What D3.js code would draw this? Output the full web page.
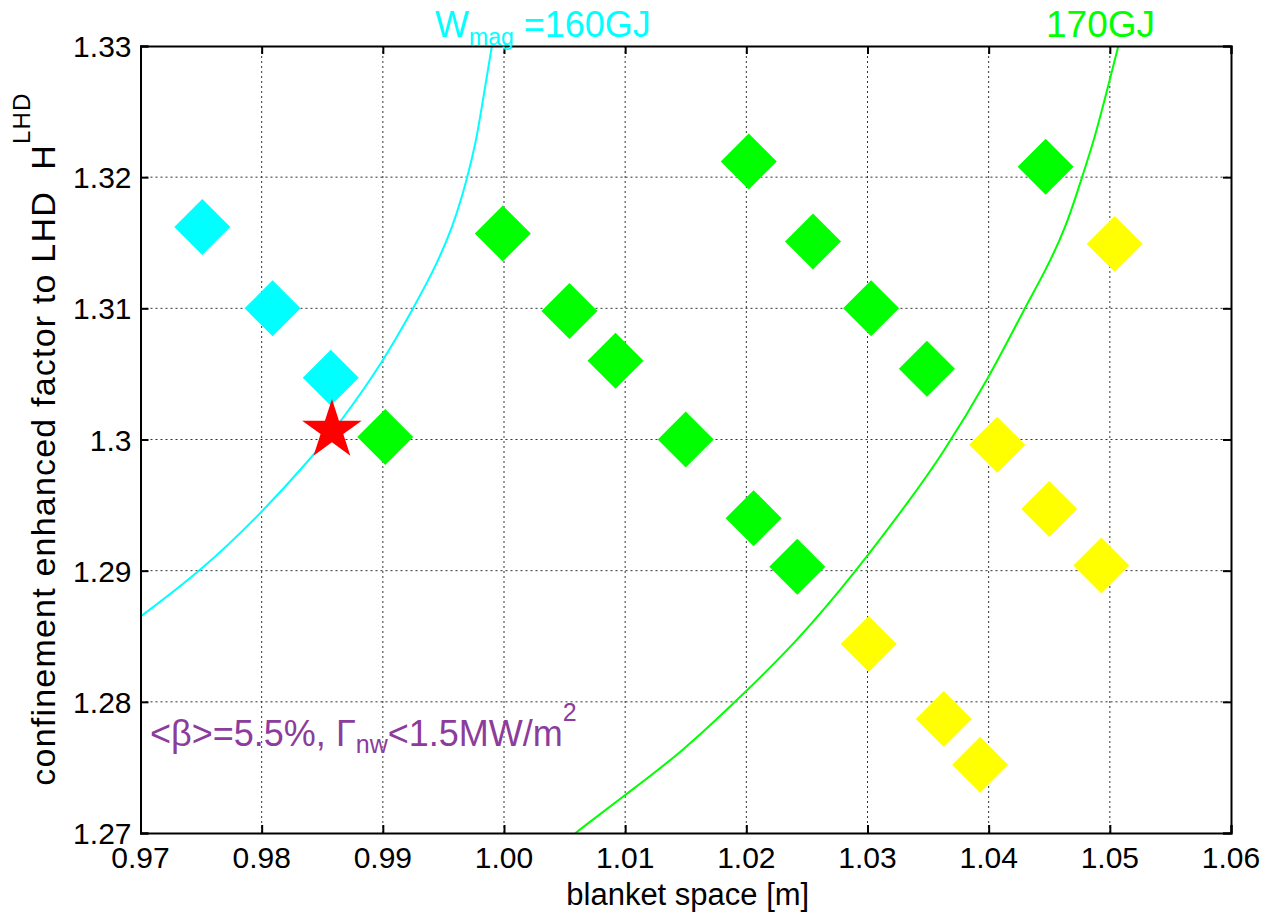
<!doctype html>
<html lang="en">
<head>
<meta charset="utf-8">
<title>blanket space vs confinement factor</title>
<script src="https://d3js.org/d3.v7.min.js"></script>
<style>
	body { margin: 0; background: #fff; }
	text { font-family: Arial, "Liberation Sans", sans-serif; }
</style>
</head>
<body>
<svg id="chart" width="1270" height="913"></svg>
<script>
// ---- data ----
var xTicks = [0.97, 0.98, 0.99, 1.00, 1.01, 1.02, 1.03, 1.04, 1.05, 1.06];
var xTickLabels = ['0.97','0.98','0.99','1.00','1.01','1.02','1.03','1.04','1.05','1.06'];
var yTicks = [1.27, 1.28, 1.29, 1.30, 1.31, 1.32, 1.33];
var yTickLabels = ['1.27','1.28','1.29','1.3','1.31','1.32','1.33'];

// cyan points
var cyanX = [0.9751, 0.9809, 0.9857];
var cyanY = [1.3162, 1.3100, 1.3047];

// green points
var greenX = [0.9902, 0.9999, 1.0054, 1.0092, 1.0150, 1.0202, 1.0206, 1.0242, 1.0255, 1.0303, 1.0349, 1.0447];
var greenY = [1.3002, 1.3157, 1.3098, 1.3060, 1.3000, 1.3212, 1.2940, 1.2903, 1.3151, 1.3100, 1.3054, 1.3208];

// yellow points
var yellowX = [1.0301, 1.0363, 1.0393, 1.0407, 1.0450, 1.0493, 1.0504];
var yellowY = [1.2844, 1.2787, 1.2752, 1.2996, 1.2947, 1.2904, 1.3149];

// red star (design point)
var starX = [0.9858];
var starY = [1.3007];

// W_mag = 160GJ contour
var w160X = [0.9700, 0.9749, 0.9800, 0.9840, 0.9865, 0.9900, 0.9925, 0.9941, 0.9958, 0.9970, 0.9977, 0.9980, 0.9990];
var w160Y = [1.2865, 1.2899, 1.2944, 1.2985, 1.3013, 1.3059, 1.3100, 1.3127, 1.3162, 1.3200, 1.3228, 1.3244, 1.3300];

// W_mag = 170GJ contour
var w170X = [1.0059, 1.0100, 1.0146, 1.0191, 1.0243, 1.0291, 1.0335, 1.0360, 1.0401, 1.0429, 1.0446, 1.0464, 1.0477, 1.0487, 1.0498, 1.0507];
var w170Y = [1.2700, 1.2729, 1.2761, 1.2800, 1.2847, 1.2900, 1.2954, 1.2986, 1.3048, 1.3099, 1.3127, 1.3162, 1.3200, 1.3228, 1.3267, 1.3300];

// ---- layout ----
var margin = {left: 140.5, top: 46, right: 39, bottom: 80};
var W = 1270, H = 913;
var pw = W - margin.left - margin.right;
var ph = H - margin.top - margin.bottom;

var svg = d3.select('#chart');

var x = d3.scaleLinear().domain([0.97, 1.06]).range([0, pw]);
var y = d3.scaleLinear().domain([1.27, 1.33]).range([ph, 0]);

var g = svg.append('g').attr('transform', 'translate(' + margin.left + ',' + margin.top + ')');

// clip for curves
g.append('clipPath').attr('id', 'clip')
	.append('rect').attr('width', pw).attr('height', ph);

// grid lines (dotted)
g.append('g').selectAll('line.gx')
	.data(xTicks.slice(1, -1)).enter().append('line')
	.attr('x1', d => x(d)).attr('x2', d => x(d))
	.attr('y1', 0).attr('y2', ph)
	.attr('stroke', '#333').attr('stroke-width', 1).attr('stroke-dasharray', '2,3');

g.append('g').selectAll('line.gy')
	.data(yTicks.slice(1, -1)).enter().append('line')
	.attr('y1', d => y(d)).attr('y2', d => y(d))
	.attr('x1', 0).attr('x2', pw)
	.attr('stroke', '#333').attr('stroke-width', 1).attr('stroke-dasharray', '2,3');

// contour curves
var line = d3.line()
	.x(d => x(d[0]))
	.y(d => y(d[1]))
	.curve(d3.curveBasis);

g.append('path')
	.datum(d3.zip(w160X, w160Y))
	.attr('clip-path', 'url(#clip)')
	.attr('fill', 'none').attr('stroke', '#00ffff').attr('stroke-width', 2)
	.attr('d', line);

g.append('path')
	.datum(d3.zip(w170X, w170Y))
	.attr('clip-path', 'url(#clip)')
	.attr('fill', 'none').attr('stroke', '#00ff00').attr('stroke-width', 2)
	.attr('d', line);

// diamonds
var diamond = d3.symbol().type(d3.symbolSquare).size(1568);

function drawDiamonds(xs, ys, color) {
	g.append('g').selectAll('path')
		.data(d3.zip(xs, ys)).enter().append('path')
		.attr('d', diamond)
		.attr('transform', d => 'translate(' + x(d[0]) + ',' + y(d[1]) + ') rotate(45)')
		.attr('fill', color);
}
drawDiamonds(cyanX, cyanY, '#00ffff');
drawDiamonds(greenX, greenY, '#00ff00');
drawDiamonds(yellowX, yellowY, '#ffff00');

// red star
g.append('g').selectAll('path')
	.data(d3.zip(starX, starY)).enter().append('path')
	.attr('d', d3.symbol().type(d3.symbolStar).size(1100))
	.attr('transform', d => 'translate(' + x(d[0]) + ',' + y(d[1]) + ')')
	.attr('fill', '#ff0000');

// axes box + inward ticks on all sides
var tickLen = 8;
var axB = d3.axisBottom(x).tickValues(xTicks).tickSize(-tickLen).tickFormat('');
var axT = d3.axisTop(x).tickValues(xTicks).tickSize(-tickLen).tickFormat('');
var axL = d3.axisLeft(y).tickValues(yTicks).tickSize(-tickLen).tickFormat('');
var axR = d3.axisRight(y).tickValues(yTicks).tickSize(-tickLen).tickFormat('');

g.append('g').attr('transform', 'translate(0,' + ph + ')').call(axB);
g.append('g').call(axT);
g.append('g').call(axL);
g.append('g').attr('transform', 'translate(' + pw + ',0)').call(axR);
g.selectAll('.domain').attr('stroke', '#000').attr('stroke-width', 2);
g.selectAll('.tick line').attr('stroke', '#000').attr('stroke-width', 2);

// tick labels
g.append('g').selectAll('text')
	.data(xTicks).enter().append('text')
	.attr('x', d => x(d)).attr('y', ph + 35)
	.attr('text-anchor', 'middle')
	.attr('font-size', 30)
	.text((d, i) => xTickLabels[i]);

g.append('g').selectAll('text')
	.data(yTicks).enter().append('text')
	.attr('x', -9).attr('y', d => y(d) + 11)
	.attr('text-anchor', 'end')
	.attr('font-size', 30)
	.text((d, i) => yTickLabels[i]);

// axis titles
svg.append('text')
	.attr('x', margin.left + pw / 2 + 2).attr('y', 905)
	.attr('text-anchor', 'middle')
	.attr('font-size', 31)
	.text('blanket space [m]');

var yt = svg.append('text')
	.attr('transform', 'translate(55,439) rotate(-90)')
	.attr('text-anchor', 'middle')
	.attr('font-size', 34)
	.attr('letter-spacing', 1.2);
yt.append('tspan').text('confinement enhanced factor to LHD\u00a0\u00a0H');
yt.append('tspan').attr('dy', -25).attr('font-size', 24).text('LHD');

// contour labels above plot
var t160 = svg.append('text')
	.attr('x', 435).attr('y', 37)
	.attr('font-size', 36).attr('fill', '#00ffff');
t160.append('tspan').text('W');
t160.append('tspan').attr('dy', 8).attr('font-size', 23).text('mag');
t160.append('tspan').attr('dy', -8).text('\u00a0=160GJ');

svg.append('text')
	.attr('x', 1046).attr('y', 37)
	.attr('font-size', 37).attr('fill', '#00ff00')
	.text('170GJ');

// beta / wall load annotation
var ann = svg.append('text')
	.attr('y', 746)
	.attr('font-size', 36).attr('fill', '#8c3c9c');
ann.append('tspan').attr('x', 150).text('<\u03b2>=5.5%,');
ann.append('tspan').attr('x', 336).text('\u0393');
ann.append('tspan').attr('dy', 7).attr('font-size', 25).text('nw');
ann.append('tspan').attr('dy', -7).text('<1.5MW/m');
ann.append('tspan').attr('dy', -25).attr('font-size', 25).text('2');
</script>
</body>
</html>
